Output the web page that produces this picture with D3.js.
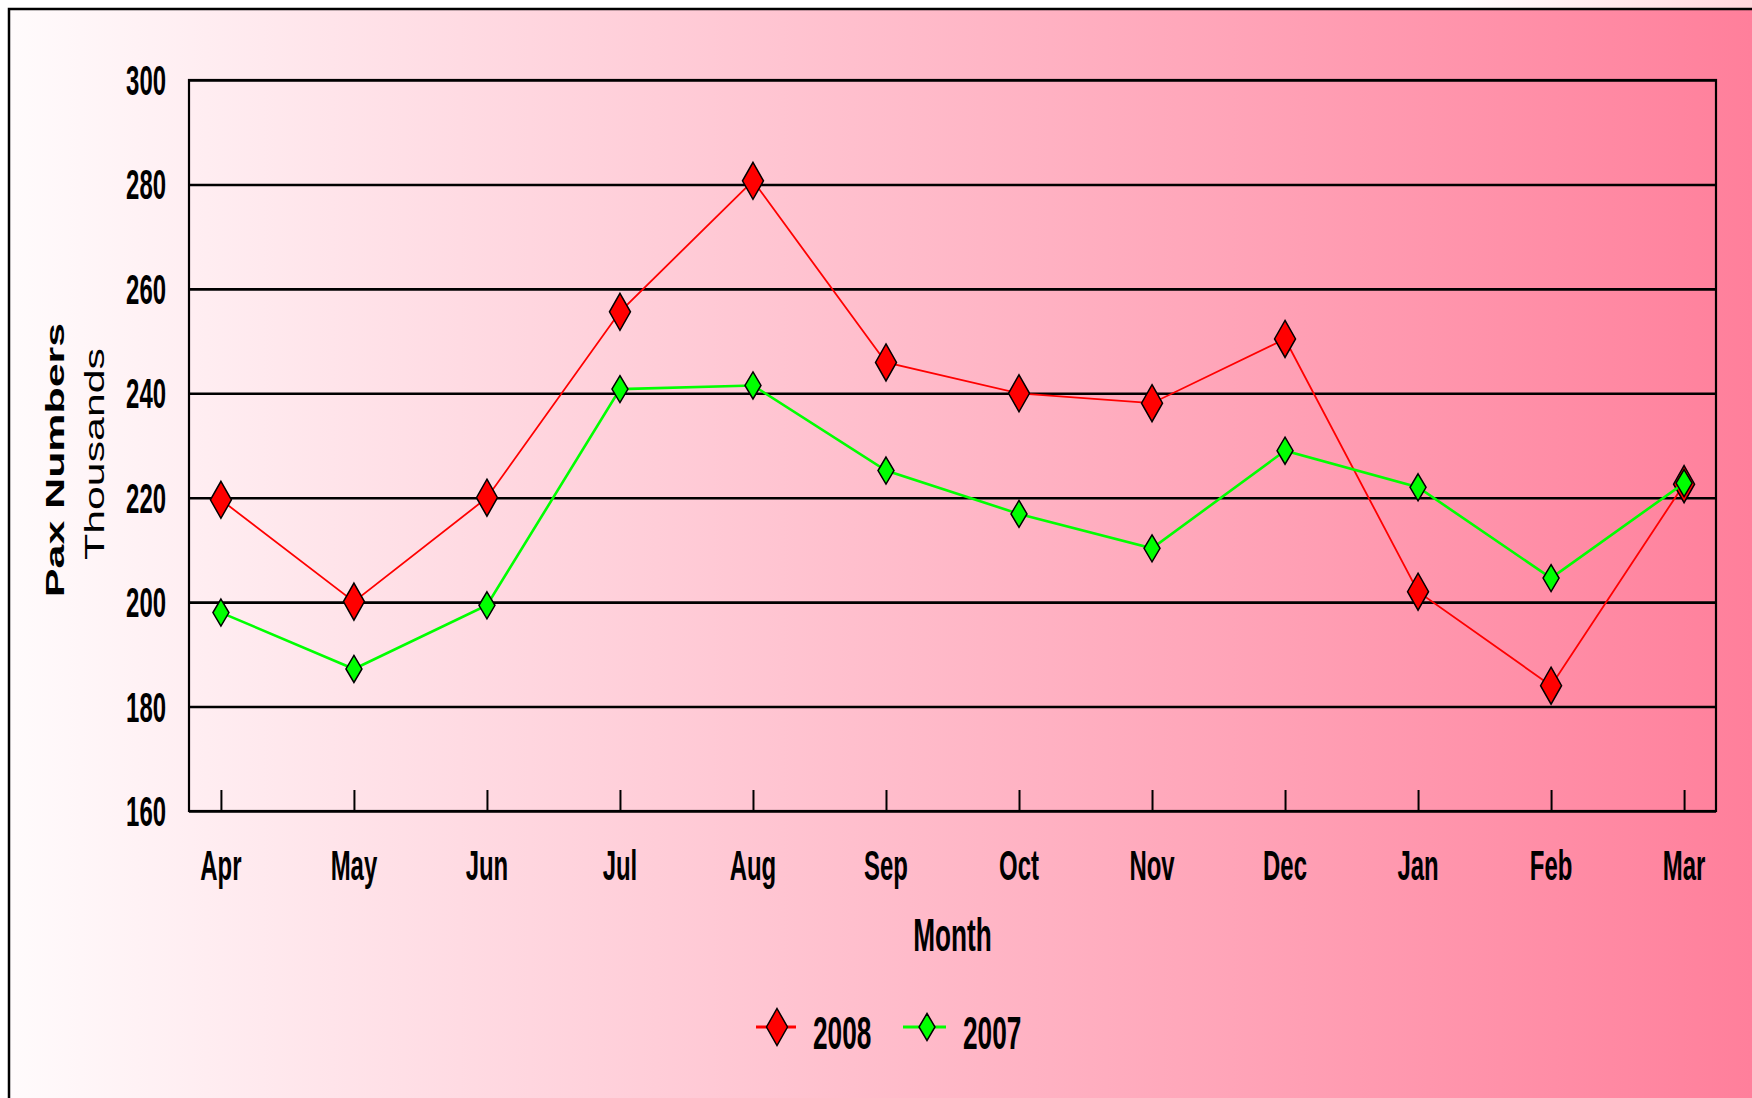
<!DOCTYPE html>
<html>
<head>
<meta charset="utf-8">
<script src="https://cdnjs.cloudflare.com/ajax/libs/d3/7.8.5/d3.min.js"></script>
<style>
  html, body { margin: 0; padding: 0; background: #ffffff; }
  svg { display: block; }
  .lbl { font-family: "Liberation Sans", Arial, sans-serif; font-weight: bold; fill: #000; }
</style>
</head>
<body>
<div id="chart"></div>
<script>
// chart values
var months = ["Apr", "May", "Jun", "Jul", "Aug", "Sep", "Oct", "Nov", "Dec", "Jan", "Feb", "Mar"];
var pax2008 = [219.6, 200.1, 220.0, 255.6, 280.7, 245.9, 240.0, 238.1, 250.4, 202.0, 184.0, 222.6];
var pax2007 = [198.0, 187.2, 199.4, 240.8, 241.5, 225.2, 216.9, 210.3, 229.0, 222.0, 204.6, 222.8];
var yTicks = [160, 180, 200, 220, 240, 260, 280, 300];
var seriesNames = ["2008", "2007"];

var W = 1752, H = 1098;
var plot = {left: 189, right: 1716, top: 80, bottom: 811};
var SX = 0.57; // horizontal squeeze for the narrow label font

var svg = d3.select("#chart").append("svg")
    .attr("width", W)
    .attr("height", H);

var defs = svg.append("defs");
var grad = defs.append("linearGradient")
    .attr("id", "bg")
    .attr("x1", "0%").attr("y1", "0%")
    .attr("x2", "100%").attr("y2", "0%");
grad.append("stop").attr("offset", "0%").attr("stop-color", "#fffbfc");
grad.append("stop").attr("offset", "100%").attr("stop-color", "#ff7f9b");

// page background with a faint shadow strip at top right
var topGrad = defs.append("linearGradient")
    .attr("id", "topshade")
    .attr("x1", "0%").attr("y1", "0%")
    .attr("x2", "100%").attr("y2", "0%");
topGrad.append("stop").attr("offset", "0%").attr("stop-color", "#ffffff");
topGrad.append("stop").attr("offset", "100%").attr("stop-color", "#ffd6dc");
svg.append("rect")
    .attr("x", 1450).attr("y", 0)
    .attr("width", W - 1450).attr("height", 9)
    .style("fill", "url(#topshade)");

svg.append("rect")
    .attr("x", 10).attr("y", 10)
    .attr("width", W - 10).attr("height", H - 10)
    .style("fill", "url(#bg)");

// outer frame (only top and left edges are in view)
svg.append("path")
    .attr("d", "M9," + H + " L9,9 L" + W + ",9")
    .attr("fill", "none")
    .attr("stroke", "#000")
    .attr("stroke-width", 2.5);

var x = d3.scalePoint()
    .domain(months)
    .range([plot.left, plot.right])
    .padding(0.24);

var y = d3.scaleLinear()
    .domain([160, 300])
    .range([plot.bottom, plot.top]);

var chartArea = svg.append("g").attr("class", "chartArea");

// horizontal grid
chartArea.append("g")
    .attr("class", "grid")
    .attr("transform", "translate(" + plot.left + ",0)")
    .call(d3.axisLeft(y).tickValues(yTicks).tickSize(-(plot.right - plot.left)).tickFormat(""))
    .call(function(g) {
        g.select(".domain").remove();
        g.selectAll("line").attr("stroke", "#000").attr("stroke-width", 2.6);
    });

// plot frame
chartArea.append("rect")
    .attr("x", plot.left).attr("y", plot.top)
    .attr("width", plot.right - plot.left)
    .attr("height", plot.bottom - plot.top)
    .attr("fill", "none")
    .attr("stroke", "#000")
    .attr("stroke-width", 2.2);

// x ticks go up inside the plot
chartArea.append("g")
    .attr("class", "xaxis")
    .attr("transform", "translate(0," + plot.bottom + ")")
    .call(d3.axisBottom(x).tickSize(-21).tickFormat(""))
    .call(function(g) {
        g.select(".domain").remove();
        g.selectAll("line").attr("stroke", "#000").attr("stroke-width", 2);
    });

function narrowText(parent, px, py, str, size, anchor) {
    return parent.append("text")
        .attr("class", "lbl")
        .attr("transform", "translate(" + px + "," + py + ") scale(" + SX + ",1)")
        .attr("text-anchor", anchor)
        .style("font-size", size + "px")
        .text(str);
}

// y tick labels
yTicks.forEach(function(t) {
    narrowText(chartArea, 166, y(t) + 15, t, 42, "end");
});

// month labels
months.forEach(function(m) {
    narrowText(chartArea, x(m), 880, m, 42, "middle");
});

// axis titles
narrowText(svg, (plot.left + plot.right) / 2, 951, "Month", 46, "middle");

svg.append("text")
    .attr("transform", "translate(64,460) rotate(-90)")
    .attr("text-anchor", "middle")
    .attr("textLength", 274)
    .attr("lengthAdjust", "spacingAndGlyphs")
    .style("font-family", "'Liberation Sans', Arial, sans-serif")
    .style("font-weight", "bold")
    .style("font-size", "26px")
    .text("Pax Numbers");

svg.append("text")
    .attr("transform", "translate(104,454) rotate(-90)")
    .attr("text-anchor", "middle")
    .attr("textLength", 212)
    .attr("lengthAdjust", "spacingAndGlyphs")
    .style("font-family", "'Liberation Sans', Arial, sans-serif")
    .style("font-size", "28px")
    .text("Thousands");

// series
function diamond(w, h) {
    return "M0," + (-h) + "L" + w + ",0L0," + h + "L" + (-w) + ",0Z";
}

var series = [
    {name: seriesNames[0], values: pax2008, color: "#ff0000", width: 1.8, dw: 10.5, dh: 18.5},
    {name: seriesNames[1], values: pax2007, color: "#00ff00", width: 2.6, dw: 8, dh: 13.5}
];

var line = d3.line()
    .x(function(d, i) { return x(months[i]); })
    .y(function(d) { return y(d); });

series.forEach(function(s) {
    var g = chartArea.append("g").attr("class", "series s" + s.name);
    g.append("path")
        .attr("d", line(s.values))
        .attr("fill", "none")
        .attr("stroke", s.color)
        .attr("stroke-width", s.width);
    g.selectAll("path.marker")
        .data(s.values)
        .enter().append("path")
        .attr("class", "marker")
        .attr("d", diamond(s.dw, s.dh))
        .attr("transform", function(d, i) { return "translate(" + x(months[i]) + "," + y(d) + ")"; })
        .attr("fill", s.color)
        .attr("stroke", "#000")
        .attr("stroke-width", 1.5);
});

// legend
var legendItems = [
    {s: series[0], x1: 756, x2: 796, cx: 777, tx: 813},
    {s: series[1], x1: 903, x2: 946, cx: 927, tx: 963}
];
var legend = svg.append("g").attr("class", "legend");
legendItems.forEach(function(it) {
    legend.append("line")
        .attr("x1", it.x1).attr("x2", it.x2)
        .attr("y1", 1027).attr("y2", 1027)
        .attr("stroke", it.s.color)
        .attr("stroke-width", 3);
    legend.append("path")
        .attr("d", diamond(it.s.dw, it.s.dh))
        .attr("transform", "translate(" + it.cx + ",1027)")
        .attr("fill", it.s.color)
        .attr("stroke", "#000")
        .attr("stroke-width", 1.5);
    narrowText(legend, it.tx, 1049, it.s.name, 46, "start");
});
</script>
</body>
</html>
